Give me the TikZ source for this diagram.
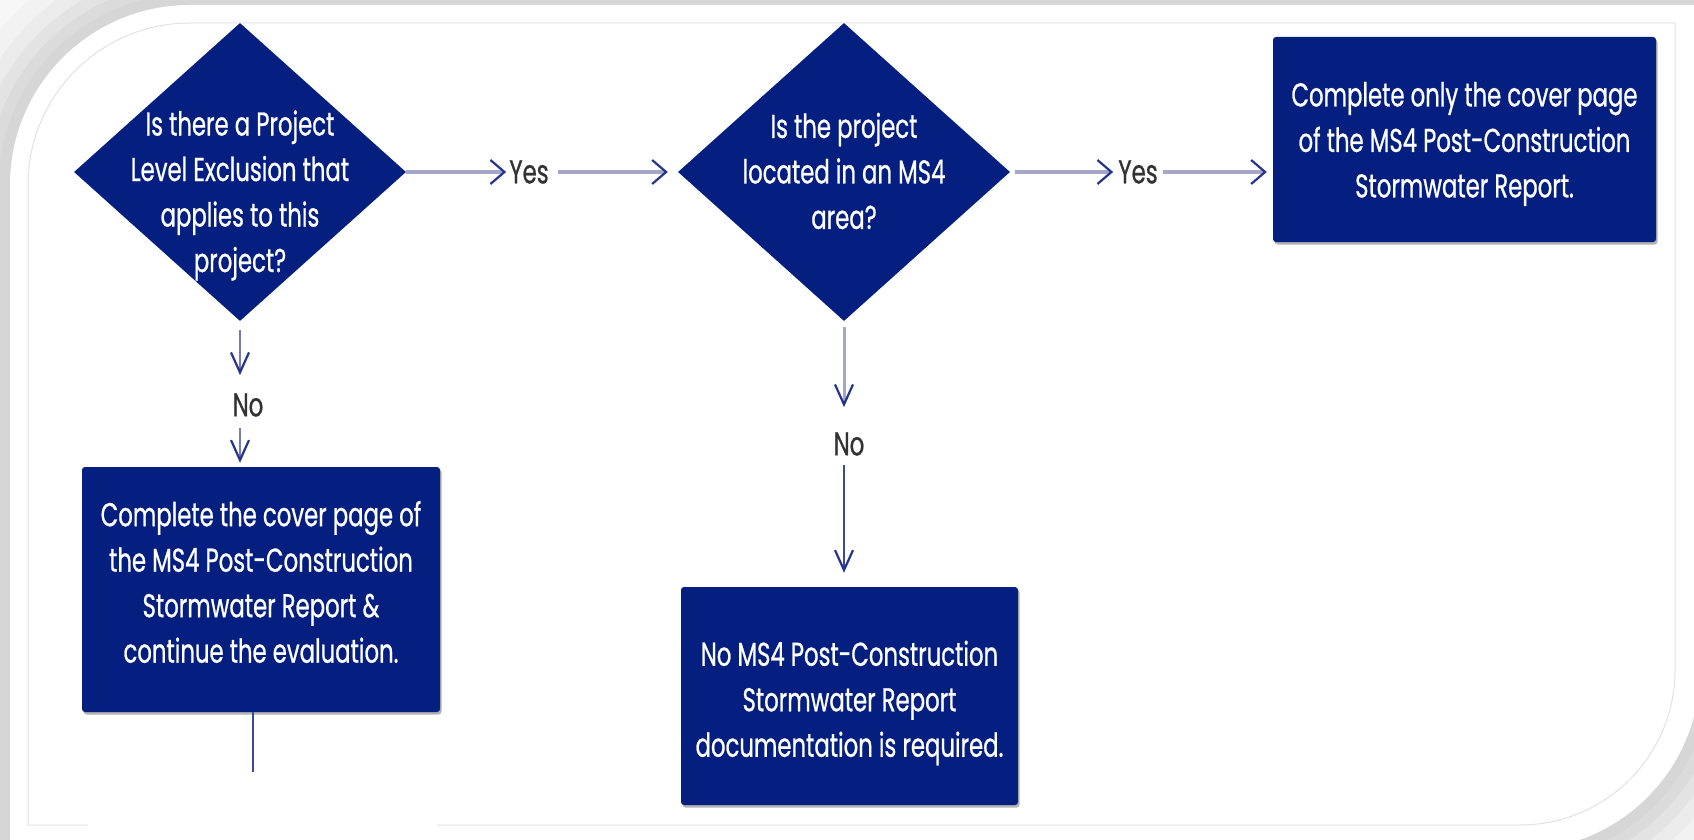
\documentclass[tikz,border=0pt]{standalone}
\usepackage{fontspec}
\setmainfont[FakeStretch=0.69, FakeBold=0.7]{Poppins}
\usetikzlibrary{shapes.geometric, arrows.meta, shadows}

\definecolor{navy}{RGB}{4,31,128}
\definecolor{tipblue}{RGB}{38,52,140}
\definecolor{linelight}{RGB}{164,167,201}
\definecolor{linemid}{RGB}{118,123,180}
\definecolor{linedark}{RGB}{58,72,160}
\definecolor{labelgray}{RGB}{50,50,50}
\definecolor{framegray}{RGB}{226,226,226}

% outline of the white sheet: rounded top-left and bottom-right corners
\def\sheetpath{(10,850) -- (10,185) arc[start angle=180, end angle=270, radius=180]
  -- (1700,5) -- (1700,670) arc[start angle=0, end angle=90, radius=180] -- cycle}

\begin{document}
\begin{tikzpicture}[x=1pt, y=-1pt,
  boxtext/.style={text=white, align=center, font=\fontsize{33}{45.5}\selectfont, inner sep=0pt},
  lbl/.style={text=labelgray, font=\fontsize{33}{40}\selectfont, inner sep=0pt},
  decision/.style={diamond, fill=navy, draw=none, inner sep=0pt,
    minimum width=332pt, minimum height=298pt},
  outcome/.style={rectangle, fill=navy, draw=none, rounded corners=3pt,
    drop shadow={shadow xshift=1.5pt, shadow yshift=-2.5pt, opacity=0.3, fill=black}},
  hflow/.style={draw=linelight, line width=3.5pt,
    -{Straight Barb[length=14pt, width=24pt, line width=2.2pt, color=tipblue]}},
  vflow/.style={line width=2.4pt,
    -{Straight Barb[length=20pt, width=18pt, line width=2.2pt, color=tipblue]}},
]
\useasboundingbox (0,0) rectangle (1694,840);
\clip (0,0) rectangle (1694,840);
\fill[white] (0,0) rectangle (1694,840);

% soft shadow around the sheet, then the sheet itself
\foreach \w/\c in {170/3, 130/5, 96/8, 68/11, 44/14, 22/16}
  \draw[line width=\w pt, black!\c] \sheetpath;
\fill[white] \sheetpath;

% thin inner frame
\draw[framegray, line width=1pt] (28,825) -- (28,185)
  arc[start angle=180, end angle=270, radius=162] -- (1675,23) -- (1675,670)
  arc[start angle=0, end angle=90, radius=155] -- cycle;
\draw[white, line width=3pt] (88,825) -- (437,825);

% decisions
\node[decision] (d1) at (240,172) {};
\node[boxtext] (d1t) at (240,195.5) {Is there a Project\\Level Exclusion that\\applies to this\\project?};
\node[decision] (d2) at (844,172) {};
\node[boxtext] (d2t) at (844,171) {Is the project\\located in an MS4\\area?};

% outcomes
\node[outcome, minimum width=383pt, minimum height=205pt] (b3) at (1464.5,139.5) {};
\node[boxtext] (b3t) at (1464.5,144) {Complete only the cover page\\of the MS4 Post-Construction\\Stormwater Report.};
\node[outcome, minimum width=358pt, minimum height=245pt] (b4) at (261,589.5) {};
\node[boxtext] (b4t) at (261,582) {Complete the cover page of\\the MS4 Post-Construction\\Stormwater Report \&\\continue the evaluation.};
\node[outcome, minimum width=337pt, minimum height=218pt] (b5) at (849.5,696) {};
\node[boxtext] (b5t) at (849.5,703) {No MS4 Post-Construction\\Stormwater Report\\documentation is required.};

% branch labels
\node[lbl] (yes1) at (529,172) {Yes};
\node[lbl] (yes2) at (1138,172) {Yes};
\node[lbl] (no1) at (248,405) {No};
\node[lbl] (no2) at (849,444) {No};

% connectors
\draw[hflow, shorten >=3pt] (d1.east) -- (yes1.west);
\draw[hflow, shorten <=9pt, shorten >=10pt] (yes1.east) -- (d2.west);
\draw[hflow, shorten <=5pt, shorten >=5pt] (d2.east) -- (yes2.west);
\draw[hflow, shorten <=5pt, shorten >=6pt] (yes2.east) -- (yes2.east -| b3.west);

\draw[vflow, draw=linemid, shorten <=9pt, shorten >=18pt] (d1.south) -- (d1.south |- no1.north);
\draw[vflow, draw=linemid, shorten <=11pt, shorten >=4pt] (d1.south |- no1.south) -- (d1.south |- b4.north);

\draw[vflow, draw=linelight, line width=3pt, shorten <=6pt, shorten >=25pt] (d2.south) -- (d2.south |- no2.north);
\draw[vflow, draw=linedark, shorten <=9pt, shorten >=14pt] (d2.south |- no2.south) -- (d2.south |- b5.north);

\coordinate (tail) at (253,772);
\draw[linedark, line width=2.4pt] (b4.south -| tail) -- (tail);
\end{tikzpicture}
\end{document}
